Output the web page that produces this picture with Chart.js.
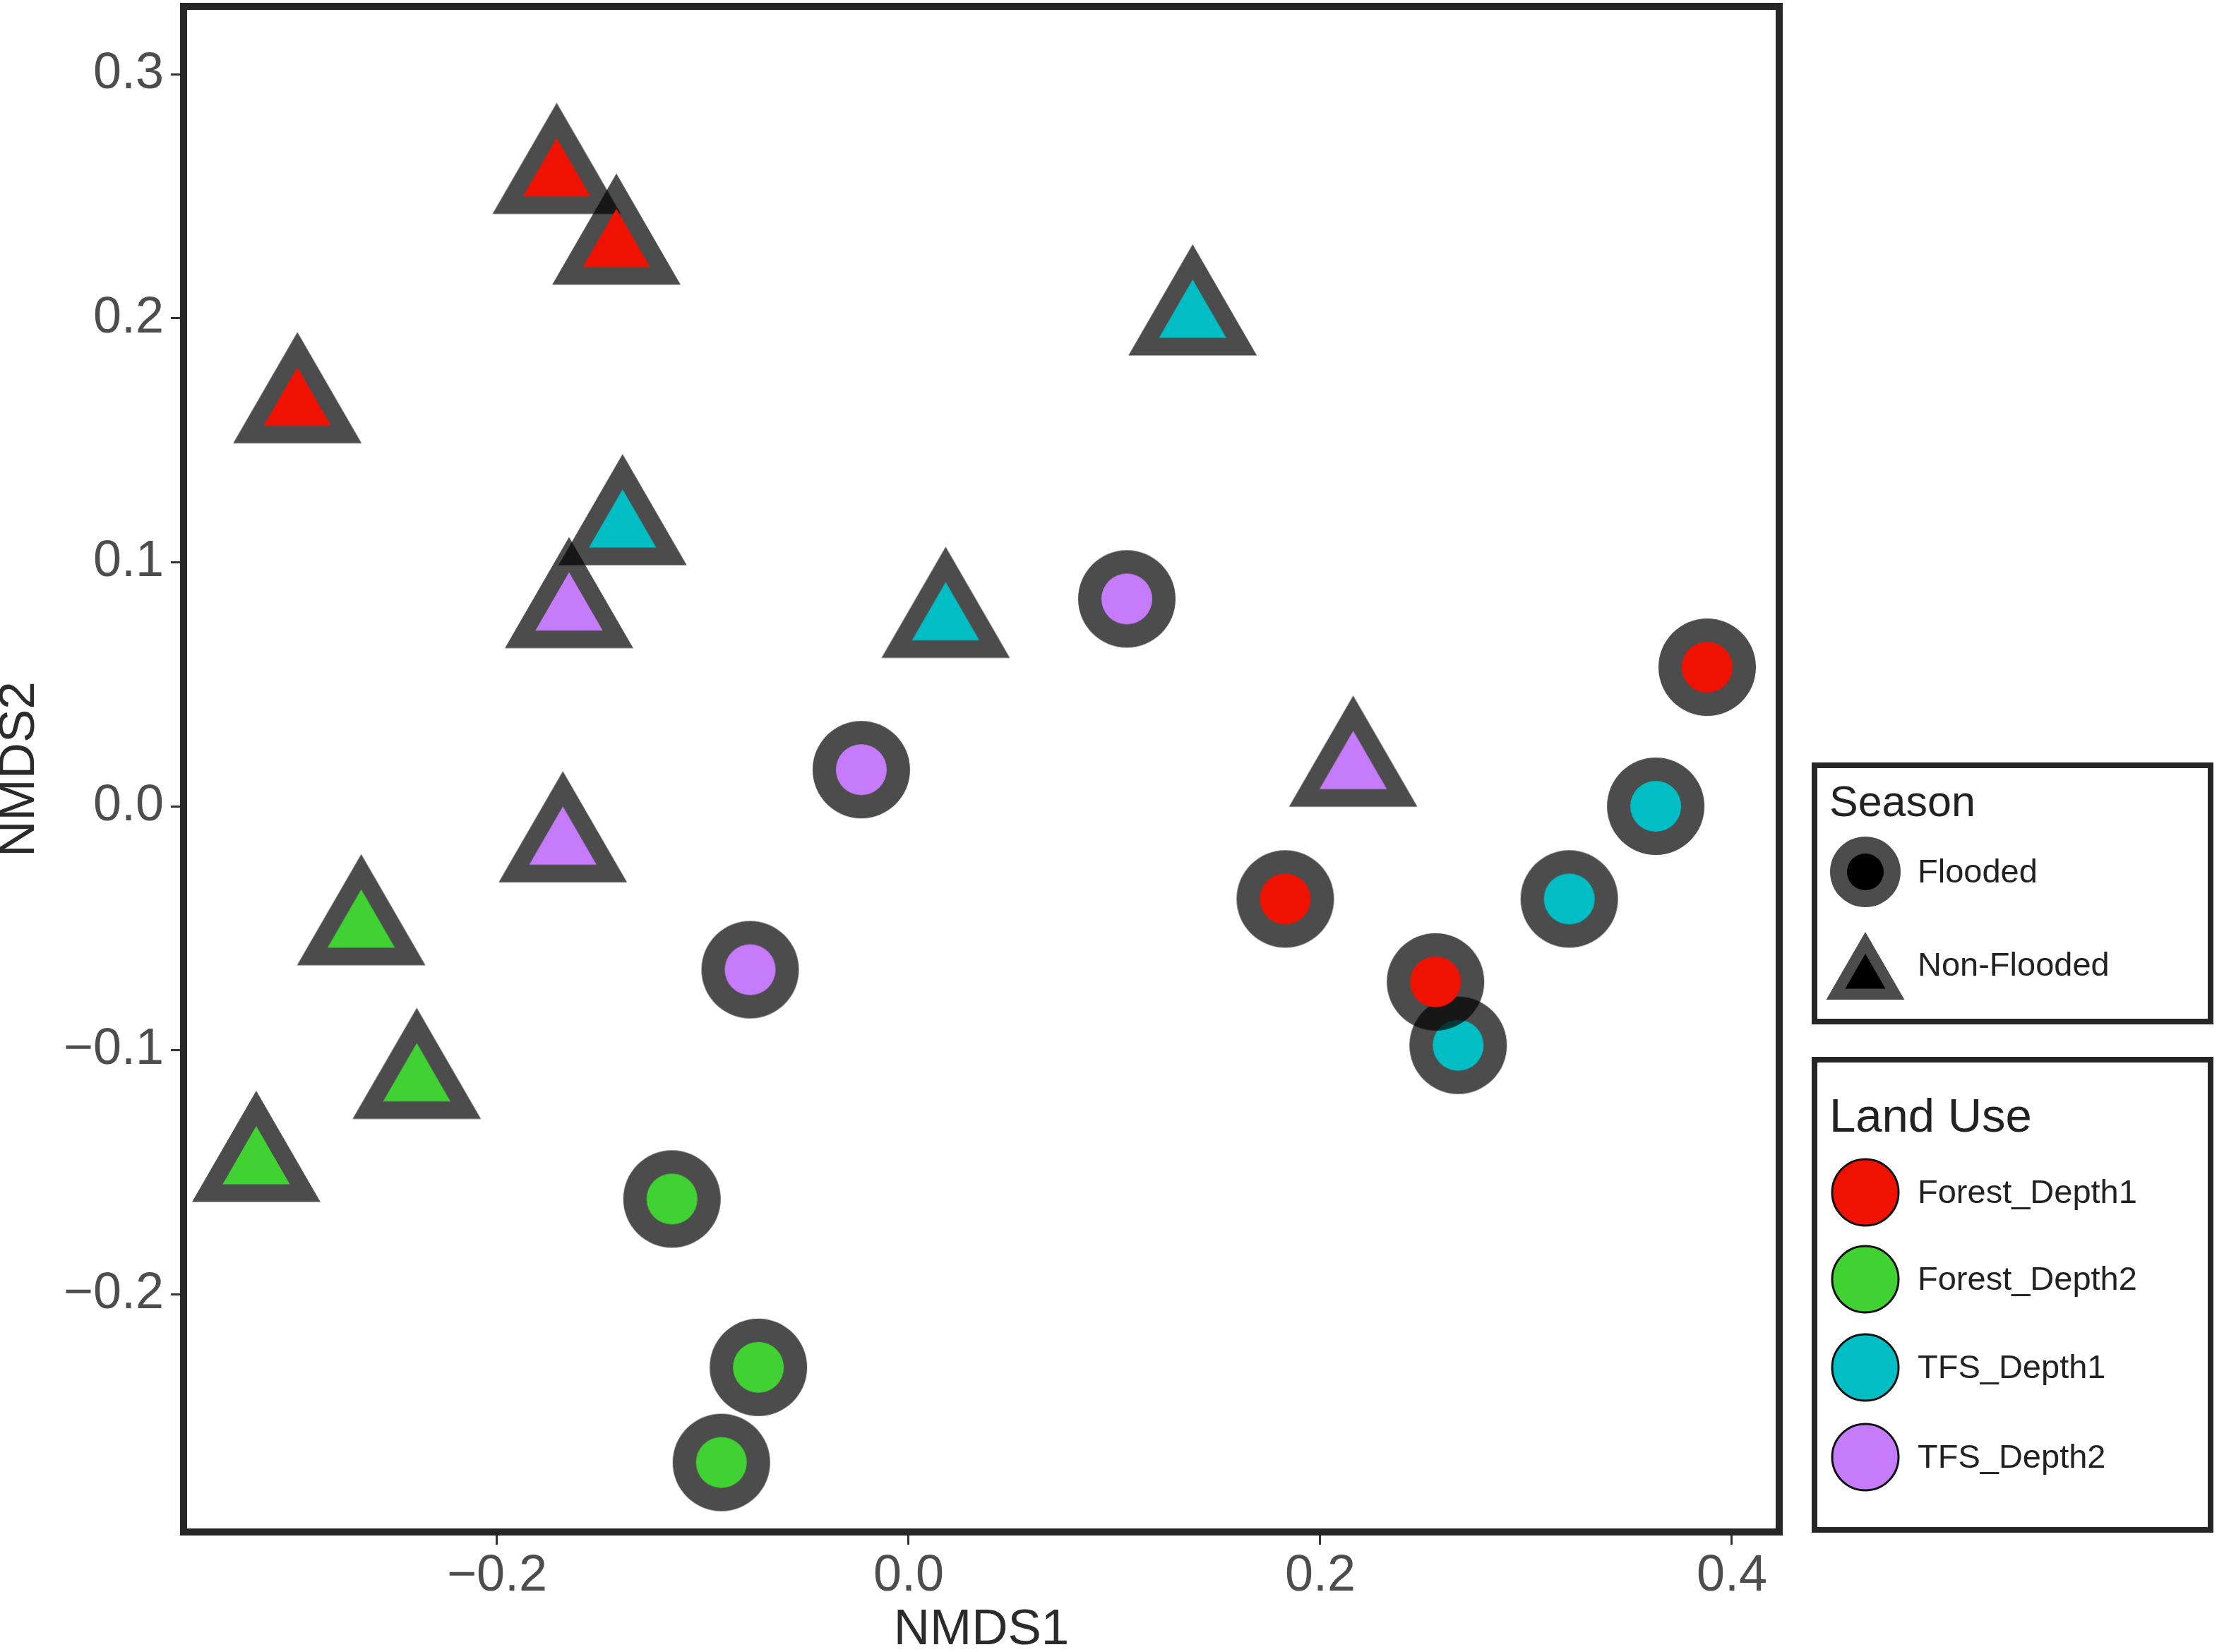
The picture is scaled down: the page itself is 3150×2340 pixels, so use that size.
<!DOCTYPE html>
<html>
<head>
<meta charset="utf-8">
<script src="https://cdn.jsdelivr.net/npm/chart.js@4.4.1/dist/chart.umd.min.js"></script>
<style>
  html, body { margin: 0; padding: 0; background: #ffffff; }
  #wrap { width: 3150px; height: 2340px; }
</style>
</head>
<body>
<div id="wrap"><canvas id="nmdsChart" width="3150" height="2340"></canvas></div>
<script>
// NMDS scores [NMDS1, NMDS2], one list per land use and season
const forestDepth1Flooded = [[0.388, 0.057], [0.183, -0.038], [0.256, -0.072]];
const forestDepth1NonFlooded = [[-0.171, 0.258], [-0.142, 0.229], [-0.297, 0.164]];
const forestDepth2Flooded = [[-0.115, -0.161], [-0.073, -0.230], [-0.091, -0.269]];
const forestDepth2NonFlooded = [[-0.266, -0.050], [-0.239, -0.113], [-0.317, -0.147]];
const tfsDepth1Flooded = [[0.363, 0.000], [0.321, -0.038], [0.267, -0.098]];
const tfsDepth1NonFlooded = [[0.138, 0.200], [-0.139, 0.114], [0.018, 0.076]];
const tfsDepth2Flooded = [[0.106, 0.085], [-0.023, 0.015], [-0.077, -0.067]];
const tfsDepth2NonFlooded = [[-0.165, 0.080], [0.216, 0.015], [-0.168, -0.016]];

const landUseNames = ['Forest_Depth1', 'Forest_Depth2', 'TFS_Depth1', 'TFS_Depth2'];
const seasonNames = ['Flooded', 'Non-Flooded'];
const xTicks = [-0.2, 0.0, 0.2, 0.4];
const yTicks = [-0.2, -0.1, 0.0, 0.1, 0.2, 0.3];

const landUseColors = ['#f01200', '#40d232', '#00bec4', '#c57bfa'];
const ringColor = 'rgba(0, 0, 0, 0.7)';
const FONT = '"Liberation Sans", Arial, Helvetica, sans-serif';

// marker bitmap: translucent dark ring + solid coloured core
function makeMarker(shape, fill) {
    const outer = shape === 'circle' ? 69 : 105;
    const inner = shape === 'circle' ? 36 : 55;
    const size = outer * 2 + 4;
    const c = document.createElement('canvas');
    c.width = size;
    c.height = size;
    const g = c.getContext('2d');
    const m = size / 2;
    const path = (r) => {
        g.beginPath();
        if (shape === 'circle') {
            g.arc(m, m, r, 0, Math.PI * 2);
        } else {
            g.moveTo(m, m - r);
            g.lineTo(m + r * Math.sqrt(3) / 2, m + r / 2);
            g.lineTo(m - r * Math.sqrt(3) / 2, m + r / 2);
            g.closePath();
        }
    };
    path(outer);
    g.fillStyle = ringColor;
    g.fill();
    path(inner);
    g.fillStyle = fill;
    g.fill();
    return c;
}

const toPoints = (arr) => arr.map(p => ({ x: p[0], y: p[1] }));

const seriesList = [
    [forestDepth1Flooded, forestDepth1NonFlooded],
    [forestDepth2Flooded, forestDepth2NonFlooded],
    [tfsDepth1Flooded, tfsDepth1NonFlooded],
    [tfsDepth2Flooded, tfsDepth2NonFlooded]
];

const datasets = [];
seriesList.forEach((pair, i) => {
    pair.forEach((pts, j) => {
        datasets.push({
            label: landUseNames[i] + ' ' + seasonNames[j],
            data: toPoints(pts),
            pointStyle: makeMarker(j === 0 ? 'circle' : 'triangle', landUseColors[i]),
            pointRadius: 70,
            pointHoverRadius: 70,
            clip: false
        });
    });
});

// panel border and the two legend boxes
const framePlugin = {
    id: 'frame',
    afterDatasetsDraw(chart) {
        const { ctx, chartArea: a } = chart;
        ctx.save();
        ctx.strokeStyle = '#262626';
        ctx.lineWidth = 10;
        ctx.strokeRect(a.left, a.top, a.right - a.left, a.bottom - a.top);
        ctx.restore();
    },
    afterDraw(chart) {
        const ctx = chart.ctx;
        ctx.save();
        ctx.strokeStyle = '#262626';
        ctx.lineWidth = 8;
        ctx.strokeRect(2570, 1084, 561, 363);
        ctx.strokeRect(2570, 1501, 561, 666);

        ctx.fillStyle = '#222222';
        ctx.textAlign = 'left';
        ctx.textBaseline = 'alphabetic';
        ctx.font = '61px ' + FONT;
        ctx.fillText('Season', 2591, 1156);
        ctx.font = '67px ' + FONT;
        ctx.fillText('Land Use', 2591, 1603);

        // season keys
        const kx = 2642;
        ctx.fillStyle = ringColor;
        ctx.beginPath();
        ctx.arc(kx, 1235, 50, 0, Math.PI * 2);
        ctx.fill();
        ctx.fillStyle = '#000000';
        ctx.beginPath();
        ctx.arc(kx, 1235, 26, 0, Math.PI * 2);
        ctx.fill();
        const tri = (cy, r) => {
            ctx.beginPath();
            ctx.moveTo(kx, cy - r);
            ctx.lineTo(kx + r * Math.sqrt(3) / 2, cy + r / 2);
            ctx.lineTo(kx - r * Math.sqrt(3) / 2, cy + r / 2);
            ctx.closePath();
            ctx.fill();
        };
        ctx.fillStyle = ringColor;
        tri(1384, 64);
        ctx.fillStyle = '#000000';
        tri(1384, 33);

        ctx.fillStyle = '#222222';
        ctx.textBaseline = 'middle';
        ctx.font = '47px ' + FONT;
        ctx.fillText(seasonNames[0], 2716, 1237);
        ctx.fillText(seasonNames[1], 2716, 1369);

        // land use keys
        const rows = [1689, 1812, 1937, 2064];
        landUseNames.forEach((name, i) => {
            ctx.beginPath();
            ctx.arc(kx, rows[i], 47, 0, Math.PI * 2);
            ctx.fillStyle = landUseColors[i];
            ctx.fill();
            ctx.lineWidth = 3;
            ctx.strokeStyle = '#111111';
            ctx.stroke();
            ctx.fillStyle = '#222222';
            ctx.fillText(name, 2716, rows[i] + 2);
        });
        ctx.restore();
    }
};

const fmt = (v) => (v < 0 ? '\u2212' : '') + Math.abs(v).toFixed(1);

new Chart(document.getElementById('nmdsChart').getContext('2d'), {
    type: 'scatter',
    data: { datasets: datasets },
    options: {
        responsive: false,
        animation: false,
        events: [],
        layout: { autoPadding: false, padding: { left: 0, right: 630, top: 9, bottom: 0 } },
        plugins: {
            legend: { display: false },
            tooltip: { enabled: false }
        },
        scales: {
            x: {
                type: 'linear',
                min: -0.3523,
                max: 0.4230,
                afterFit: (s) => { s.height = 170; s.paddingLeft = 0; s.paddingRight = 0; },
                afterBuildTicks: (s) => { s.ticks = xTicks.map(v => ({ value: v })); },
                border: { display: false },
                grid: { drawOnChartArea: false, drawTicks: true, tickLength: 18, tickWidth: 3, tickColor: '#333333' },
                ticks: {
                    color: '#4d4d4d',
                    padding: 2,
                    maxRotation: 0,
                    font: { family: FONT, size: 72, lineHeight: 1.2 },
                    callback: (v) => fmt(v)
                },
                title: {
                    display: true,
                    text: 'NMDS1',
                    color: '#2b2b2b',
                    padding: { top: 0, bottom: 2 },
                    font: { family: FONT, size: 71, lineHeight: 0.8 }
                }
            },
            y: {
                type: 'linear',
                min: -0.2975,
                max: 0.3279,
                afterFit: (s) => { s.width = 260; s.paddingTop = 0; s.paddingBottom = 0; },
                afterBuildTicks: (s) => { s.ticks = yTicks.map(v => ({ value: v })); },
                border: { display: false },
                grid: { drawOnChartArea: false, drawTicks: true, tickLength: 18, tickWidth: 3, tickColor: '#333333' },
                ticks: {
                    color: '#4d4d4d',
                    padding: 10,
                    font: { family: FONT, size: 72, lineHeight: 1.2 },
                    callback: (v) => fmt(v)
                },
                title: {
                    display: true,
                    text: 'NMDS2',
                    color: '#2b2b2b',
                    padding: { top: 0, bottom: 0 },
                    font: { family: FONT, size: 71, lineHeight: 0.8 }
                }
            }
        }
    },
    plugins: [framePlugin]
});
</script>
</body>
</html>
